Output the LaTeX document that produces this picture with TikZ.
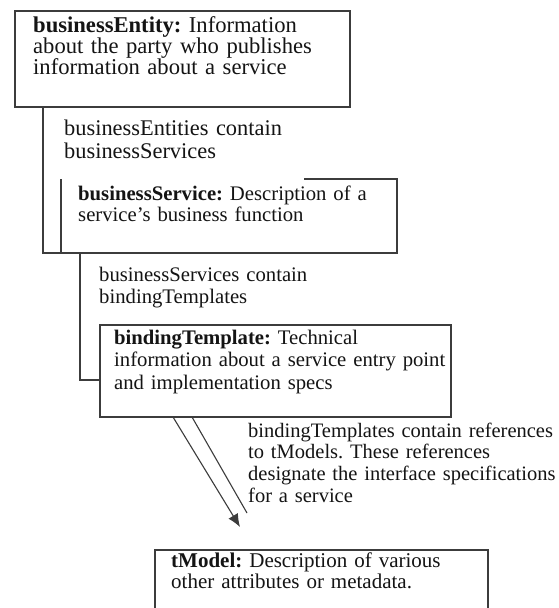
\documentclass[tikz,border=0pt]{standalone}
\usepackage{fontspec}
\setmainfont{Liberation Serif}
\usetikzlibrary{arrows.meta}
\definecolor{ln}{HTML}{3C3C3C}
\definecolor{tx}{HTML}{141414}
\newcommand{\fsz}[2]{\fontsize{#1}{#2}\selectfont\frenchspacing}
\begin{document}
\frenchspacing
\begin{tikzpicture}[x=1pt,y=-1pt,
  boxline/.style={draw=ln, line width=1.1pt},
  boxshape/.style={anchor=north west, inner sep=0pt, outer sep=0pt},
  txt/.style={anchor=base west, inner sep=0pt, text width=430pt, align=left,
              font=\fsz{20.7}{22}, text=tx},
  conn/.style={draw=ln, line width=1.1pt}]
\useasboundingbox[fill=white] (0,0) rectangle (559,608);

% boxes
\node[boxshape, boxline, minimum width=335pt, minimum height=96pt] (be) at (15,11) {};
\node[boxshape, minimum width=336pt, minimum height=74pt] (bs) at (61,179) {};
\draw[boxline] ([xshift=243pt]bs.north west) -- (bs.north east) -- (bs.south east)
  -- (bs.south west) -- (bs.north west);
\node[boxshape, boxline, minimum width=351pt, minimum height=92pt] (bt) at (100,325) {};
\node[boxshape, boxline, minimum width=333pt, minimum height=90pt] (tm) at (155,550) {};

% texts
\node[txt, font=\fsz{22.6}{21}] (betext) at (33,32) {\textbf{businessEntity:} Information\\about the party who publishes\\information about a service};
\node[txt, font=\fsz{22.4}{23}] (lab1) at (64,135) {businessEntities contain\\businessServices};
\node[txt, font=\fsz{20.7}{21}] (bstext) at (78,200) {\textbf{businessService:} Description of a\\service’s business function};
\node[txt, font=\fsz{20.7}{22.5}] (lab2) at (99,281) {businessServices contain\\bindingTemplates};
\node[txt, font=\fsz{20.7}{22.5}] (bttext) at (114,344) {\textbf{bindingTemplate:} Technical\\information about a service entry point\\and implementation specs};
\node[txt, font=\fsz{20.5}{21.7}] (lab3) at (248,437) {bindingTemplates contain references\\to tModels. These references\\designate the interface specifications\\for a service};
\node[txt, font=\fsz{21}{21}] (tmtext) at (171,567) {\textbf{tModel:} Description of various\\other attributes or metadata.};

% connectors
\draw[conn] ([xshift=28pt]be.south west) |- (bs.south west);
\draw[conn] ([xshift=19pt]bs.south west) |- ([yshift=37pt]bt.south west);
\coordinate (tip) at (240,527);
\coordinate (l2end) at (247,513);
\draw[conn, -{Latex[length=13pt,width=11pt]}] ([xshift=73pt]bt.south west) -- (tip);
\draw[conn] ([xshift=92pt]bt.south west) -- (l2end);
\end{tikzpicture}
\end{document}
